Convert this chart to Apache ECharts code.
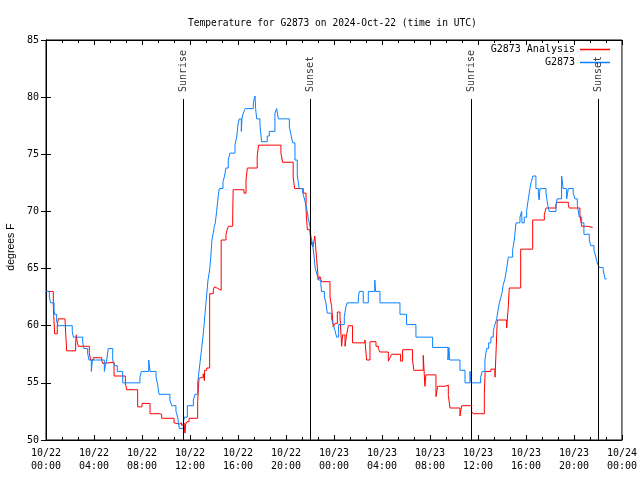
<!DOCTYPE html>
<html><head><meta charset="utf-8">
<script src="https://cdn.jsdelivr.net/npm/echarts@6/dist/echarts.min.js"></script>
<style>html,body{margin:0;padding:0;background:#fff}#c{width:640px;height:480px}</style>
</head><body><div id="c"></div>
<script>
// x values are hours since 2024-10-22 00:00 UTC
const xTickLabels = ['10/22\n00:00','10/22\n04:00','10/22\n08:00','10/22\n12:00','10/22\n16:00','10/22\n20:00',
  '10/23\n00:00','10/23\n04:00','10/23\n08:00','10/23\n12:00','10/23\n16:00','10/23\n20:00','10/24\n00:00'];
const seriesNames = ['G2873 Analysis', 'G2873'];
const anaPoints = [[0,63.0],[0.61,61.7],[0.72,59.3],[0.94,60.1],[1.03,60.6],[1.58,60.5],[1.72,57.8],[2.47,58.5],[2.53,59.2],[2.56,58.8],[2.69,58.2],[3.61,57.6],[3.72,57.0],[3.94,57.2],[4.64,57.0],[4.72,56.7],[4.78,56.8],[5.67,55.6],[6.61,55.0],[6.72,54.4],[7.64,52.9],[8.0,53.2],[8.67,52.3],[9.44,52.25],[9.64,51.9],[10.67,51.5],[10.78,51.4],[11.11,51.5],[11.28,51.3],[11.5,51.5],[11.58,50.6],[11.64,51.4],[11.75,51.6],[11.92,51.9],[12.64,53.35],[12.75,55.4],[12.9,55.5],[13.1,55.8],[13.2,55.2],[13.22,56.1],[13.39,56.3],[13.64,62.8],[13.94,63.1],[14.03,63.4],[14.08,63.27],[14.3,63.1],[14.6,67.5],[15.0,68.0],[15.1,68.4],[15.2,68.7],[15.56,69.8],[15.6,71.9],[16.5,71.6],[16.67,72.75],[16.78,73.8],[17.6,74.8],[17.72,75.8],[19.58,75.1],[19.72,74.3],[20.6,73.0],[20.72,72.0],[21.44,71.6],[21.67,70.1],[21.78,68.4],[22.0,68.15],[22.14,67.1],[22.25,66.9],[22.4,67.85],[22.55,65.9],[22.7,64.0],[22.83,64.3],[22.97,63.85],[23.67,62.5],[23.8,61.7],[23.94,59.9],[24.08,60.2],[24.28,61.2],[24.5,60.8],[24.64,58.2],[24.72,59.2],[24.92,58.2],[25.05,59.2],[25.2,60.0],[25.55,58.5],[26.58,58.75],[26.72,57.0],[27.0,58.6],[27.5,58.2],[27.7,58.0],[27.83,57.7],[28.53,56.9],[28.67,57.2],[28.8,57.5],[29.55,56.9],[29.72,57.9],[30.55,57.0],[30.66,56.1],[31.44,57.4],[31.58,54.7],[31.66,55.7],[32.5,53.8],[32.64,54.7],[33.25,54.8],[33.53,53.9],[33.67,52.8],[34.5,52.1],[34.64,53.0],[35.47,52.5],[35.6,52.3],[36.53,54.1],[36.6,56.0],[37.08,56.2],[37.42,55.5],[37.5,57.5],[37.61,60.5],[38.39,59.8],[38.53,61.7],[38.61,63.3],[39.56,66.7],[40.56,69.25],[41.53,69.7],[41.67,70.3],[42.5,70.6],[42.6,70.8],[43.53,70.6],[43.6,70.3],[44.5,69.7],[44.64,68.7],[45.14,68.6],[45.56,68.6]];
const obsPoints = [[0.0,63.0],[0.28,62.5],[0.39,62.0],[0.67,61.4],[0.72,61.0],[0.89,60.4],[1.0,60.0],[2.19,59.5],[2.28,59.0],[3.06,58.5],[3.17,58.0],[3.47,57.6],[3.58,57.0],[3.78,56.0],[3.86,57.0],[4.86,56.0],[4.97,56.6],[5.06,57.0],[5.19,58.0],[5.56,57.0],[5.72,56.5],[5.94,56.0],[6.39,55.0],[7.83,55.5],[7.94,56.0],[8.56,57.0],[8.67,56.0],[9.17,55.5],[9.28,55.0],[9.42,54.0],[10.33,53.5],[10.47,53.0],[10.83,52.5],[10.97,52.0],[11.11,51.0],[11.44,51.5],[11.53,52.0],[11.78,53.0],[12.28,53.5],[12.42,54.0],[12.64,55.0],[12.7,55.5],[12.75,56.0],[12.86,57.0],[12.97,58.0],[13.08,59.0],[13.17,60.0],[13.25,61.0],[13.33,62.0],[13.42,63.0],[13.5,64.0],[13.6,64.6],[13.67,65.2],[13.75,66.3],[13.83,67.5],[13.94,68.1],[14.03,68.7],[14.11,69.0],[14.22,70.0],[14.36,71.4],[14.44,72.0],[14.75,72.6],[14.86,73.0],[15.0,73.8],[15.19,74.5],[15.33,75.1],[15.75,75.8],[15.89,76.5],[16.0,77.6],[16.11,78.1],[16.28,77.0],[16.33,78.1],[16.44,78.6],[16.6,79.0],[17.28,79.5],[17.42,80.1],[17.47,79.0],[17.56,78.1],[17.83,77.6],[17.97,76.1],[18.44,76.6],[18.61,77.0],[19.08,78.6],[19.22,79.0],[19.36,78.1],[20.28,77.4],[20.42,76.7],[20.56,76.0],[20.75,74.5],[20.94,73.2],[21.1,72.0],[21.4,71.6],[21.56,71.0],[21.72,70.3],[21.86,69.4],[22.0,68.7],[22.08,67.8],[22.22,67.1],[22.33,66.2],[22.44,65.0],[22.56,64.6],[22.7,64.0],[22.9,63.7],[22.97,63.0],[23.2,62.5],[23.33,62.0],[23.44,61.1],[23.8,60.6],[23.94,60.1],[24.08,59.6],[24.22,59.0],[24.39,60.1],[24.86,60.8],[25.0,61.7],[25.1,62.0],[26.03,62.5],[26.11,63.0],[26.44,62.0],[26.86,63.0],[27.4,64.0],[27.47,63.0],[27.83,62.0],[29.5,61.0],[30.05,60.1],[30.83,59.0],[32.22,58.1],[33.5,57.0],[33.58,58.1],[33.64,57.0],[34.5,56.1],[34.92,55.0],[35.33,56.0],[35.42,55.0],[36.22,55.5],[36.36,56.0],[36.58,57.0],[36.72,58.0],[36.89,58.5],[37.08,59.0],[37.28,59.6],[37.42,60.1],[37.56,60.6],[37.7,61.5],[37.78,62.0],[37.92,62.5],[38.03,63.0],[38.11,63.6],[38.25,64.1],[38.39,65.0],[38.53,66.0],[38.89,66.6],[39.03,67.5],[39.17,69.0],[39.5,69.5],[39.64,70.0],[39.67,69.0],[39.86,69.5],[40.06,70.1],[40.2,71.1],[40.33,72.0],[40.44,72.6],[40.58,73.1],[40.83,72.0],[41.03,71.6],[41.1,71.0],[41.14,71.6],[41.17,72.0],[41.67,71.6],[41.81,70.6],[41.94,70.0],[42.5,70.6],[42.6,71.1],[42.97,73.1],[43.1,72.0],[43.39,71.1],[43.53,72.0],[43.94,71.6],[44.08,71.1],[44.28,70.6],[44.44,69.5],[44.64,69.0],[44.83,68.0],[45.28,67.5],[45.4,67.0],[45.67,66.6],[45.83,66.0],[45.94,65.5],[46.1,65.1],[46.44,64.9],[46.58,64.1],[46.72,64.1]];
const sunTimes = [11.44, 22.04, 35.47, 46.03];
const sunLabels = ['Sunrise', 'Sunset', 'Sunrise', 'Sunset'];
const sunLineTop = 79.84;
const sunLabelBase = 80.45;

const mono = 'DejaVu Sans Mono';
const chart = echarts.init(document.getElementById('c'), null, {renderer: 'canvas'});
const tickStyle = {color: '#000', width: 1};
function xAx(pos, showLabel) {
  return {
    type: 'value', min: 0, max: 48, interval: 4, position: pos,
    axisLine: {show: true, lineStyle: tickStyle},
    axisTick: {show: true, inside: true, length: 5, lineStyle: tickStyle},
    minorTick: {show: true, splitNumber: 3, length: 3, lineStyle: tickStyle},
    splitLine: {show: false}, minorSplitLine: {show: false},
    axisLabel: {show: showLabel, formatter: v => xTickLabels[Math.round(v / 4)],
      fontFamily: mono, fontSize: 10, color: '#000', lineHeight: 13, margin: 7}
  };
}
function yAx(pos, showLabel) {
  return {
    type: 'value', min: 50, max: 85, interval: 5, position: pos,
    axisLine: {show: true, lineStyle: tickStyle},
    axisTick: {show: true, inside: true, length: 5, lineStyle: tickStyle},
    splitLine: {show: false},
    axisLabel: {show: showLabel, fontFamily: mono, fontSize: 10, color: '#000', margin: 7}
  };
}
chart.setOption({
  animation: false,
  backgroundColor: '#fff',
  title: {text: 'Temperature for G2873 on 2024-Oct-22 (time in UTC)', left: 183, top: 13,
    textStyle: {fontFamily: mono, fontSize: 9.6, fontWeight: 'normal', color: '#000'}},
  grid: {left: 46, right: 18, top: 40, bottom: 40, show: true, borderColor: '#000', borderWidth: 1},
  legend: {data: seriesNames, orient: 'vertical', right: 30, top: 43, align: 'right', padding: 0,
    itemGap: 0, itemWidth: 30, itemHeight: 1.5, icon: 'rect',
    textStyle: {fontFamily: mono, fontSize: 10, color: '#000', lineHeight: 13}},
  xAxis: [xAx('bottom', true), xAx('top', false)],
  yAxis: [yAx('left', true), yAx('right', false)],
  graphic: [{type: 'text', x: 11, y: 247, rotation: Math.PI / 2,
    style: {text: 'degrees F', fontFamily: 'Liberation Sans', fontSize: 10.5, fill: '#000', align: 'center', verticalAlign: 'middle'}}],
  series: [
    {name: seriesNames[0], type: 'line', step: 'end', data: anaPoints, symbol: 'none', z: 2,
      lineStyle: {color: '#ff0000', width: 1}, itemStyle: {color: '#ff0000'}},
    {name: seriesNames[1], type: 'line', step: 'end', data: obsPoints, symbol: 'none', z: 3,
      lineStyle: {color: '#0a80ff', width: 1}, itemStyle: {color: '#0a80ff'}},
    {name: 'sun', type: 'scatter', z: 4, symbolSize: 1, silent: true,
      itemStyle: {color: 'rgba(0,0,0,0)'},
      data: sunTimes.map((t, i) => ({value: [t, sunLabelBase], label: {formatter: sunLabels[i]}})),
      label: {show: true, rotate: 90, position: 'inside', align: 'left', verticalAlign: 'middle',
        fontFamily: mono, fontSize: 10, color: '#000'},
      markLine: {silent: true, symbol: ['none', 'none'], label: {show: false},
        lineStyle: {color: '#000', width: 1, type: 'solid'},
        data: sunTimes.map(t => [{coord: [t, 50]}, {coord: [t, sunLineTop]}])}}
  ]
});
</script></body></html>
